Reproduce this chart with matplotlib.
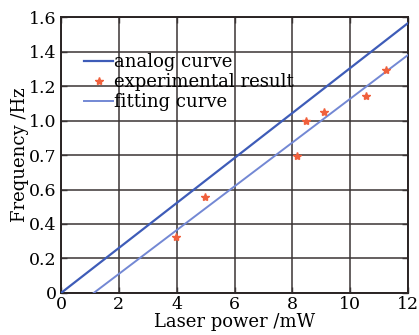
import numpy as np
import matplotlib
matplotlib.use("Agg")
import matplotlib.pyplot as plt

# =============================================================================
# DATA (y values are given in evenly spaced tick positions)
# =============================================================================
y_ticks       = [0, 0.2, 0.4, 0.6, 0.8, 1.0, 1.2, 1.4, 1.6]
y_tick_labels = ["0", "0.2", "0.4", "0.6", "0.7", "1.0", "1.2", "1.4", "1.6"]
x_ticks       = [0, 2, 4, 6, 8, 10, 12]

exp_power = [3.98, 4.97, 8.16, 8.47, 9.09, 10.56, 11.25]
exp_freq  = [0.325, 0.557, 0.794, 0.997, 1.049, 1.142, 1.293]

analog_x = [0.0, 12.0]
analog_y = [0.0, 1.565]

fit_x = [1.13, 12.0]
fit_y = [0.0, 1.38]

# =============================================================================
# PLOT
# =============================================================================
plt.rcParams["font.family"] = ["DejaVu Serif"]

fig = plt.figure(figsize=(4.19, 3.35), dpi=100)
ax = fig.add_axes([0.1456, 0.1254, 0.8282, 0.8238])

ax.grid(True, color="#3a3434", linewidth=1.1, zorder=0)
ax.plot(analog_x, analog_y, color="#3e5cb8", linewidth=1.6, label="analog curve", zorder=3)
ax.plot(exp_power, exp_freq, linestyle="none", marker="*", markersize=6,
        color="#f0603c", label="experimental result", zorder=4)
ax.plot(fit_x, fit_y, color="#7388d4", linewidth=1.4, label="fitting curve", zorder=3)

ax.set_xlim(0, 12)
ax.set_ylim(0, 1.6)
ax.set_xticks(x_ticks)
ax.set_yticks(y_ticks)
ax.set_yticklabels(y_tick_labels)
ax.tick_params(direction="in", top=True, right=True, length=4, width=1,
               labelsize=12.5, color="#3a3434")
ax.tick_params(axis="y", pad=3)
ax.tick_params(axis="x", pad=2)
for s in ax.spines.values():
    s.set_linewidth(1.4)
    s.set_color("#2a2424")

ax.set_xlabel("Laser power /mW", fontsize=13, labelpad=0)
ax.set_ylabel("Frequency /Hz", fontsize=13, labelpad=0)

ax.legend(loc="upper left", bbox_to_anchor=(0.03, 0.915), frameon=False,
          fontsize=13, handlelength=1.6, handletextpad=0.05,
          labelspacing=0.12, borderpad=0.2)

fig.savefig("out.png", dpi=100)
